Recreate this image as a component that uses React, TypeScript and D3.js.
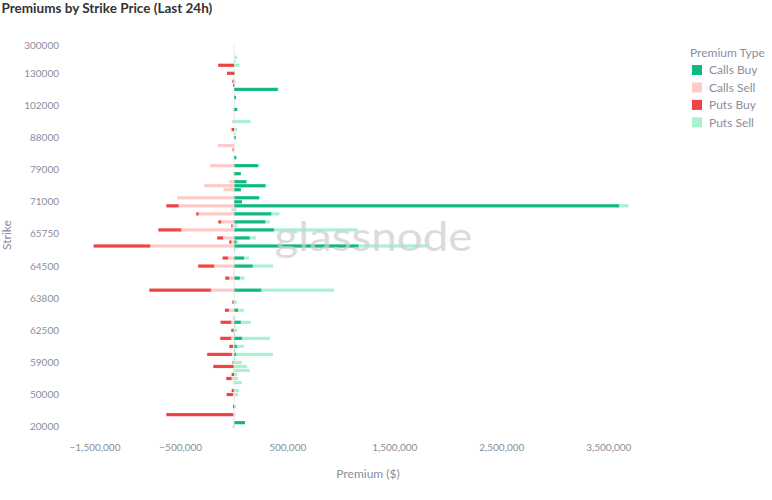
import * as d3 from "d3";

const width = 772;
const height = 500;

// strike rows, top to bottom
const strikes = [
  300000, 250000, 200000, 180000, 160000, 150000, 140000, 130000,
  125000, 120000, 115000, 110000, 108000, 106000, 104000, 102000,
  100000, 98000, 96000, 95000, 94000, 92000, 90000, 88000,
  86000, 85000, 84000, 83000, 82000, 81000, 80000, 79000,
  78000, 77000, 76000, 75000, 74000, 73000, 72000, 71000,
  70000, 69000, 68000, 67500, 67000, 66500, 66000, 65750,
  65500, 65250, 65000, 64800, 64750, 64700, 64600, 64500,
  64400, 64300, 64250, 64200, 64100, 64000, 63900, 63800,
  63750, 63600, 63500, 63400, 63250, 63000, 62750, 62500,
  62250, 62000, 61500, 61000, 60500, 60000, 59500, 59000,
  58000, 57000, 56000, 55000, 54000, 52000, 51000, 50000,
  48000, 46000, 45000, 42000, 40000, 30000, 25000, 20000,
];

// premiums in thousands of $, same order as strikes
const callsBuy = [
  0, 0, 0, 0, 0, 0, 0, 3,
  0, 0, 0, 408, 0, 16, 0, 0,
  28, 0, 0, 0, 0, 0, 0, 15,
  0, 0, 0, 0, 20, 0, 225, 0,
  62, 0, 115, 293, 62, 0, 234, 72,
  3598, 0, 349, 0, 293, 0, 371, 0,
  146, 22, 1162, 3, 0, 93, 0, 174,
  0, 0, 53, 0, 0, 255, 0, 0,
  0, 0, 37, 0, 0, 62, 3, 0,
  3, 72, 3, 25, 3, 19, 3, 0,
  0, 0, 0, 0, 0, 0, 0, 0,
  0, 0, 0, 0, 0, 0, 100, 0,
];

const callsSell = [
  0, 0, 0, 0, 0, 0, 0, 0,
  0, 8, 0, 0, 0, 0, 0, 0,
  15, 0, 5, 20, 0, 0, 5, 5,
  0, 153, 8, 0, 0, 0, 225, 0,
  10, 0, 45, 280, 100, 0, 533, 0,
  520, 28, 333, 0, 121, 16, 495, 0,
  103, 25, 785, 0, 0, 59, 8, 187,
  0, 8, 47, 3, 0, 218, 3, 0,
  6, 0, 50, 0, 15, 28, 0, 6,
  0, 28, 0, 12, 0, 22, 0, 10,
  6, 6, 0, 25, 9, 0, 5, 12,
  4, 0, 0, 0, 9, 5, 6, 15,
];

const putsBuy = [
  0, 0, 0, 0, 0, 150, 0, 68,
  0, 10, 10, 0, 0, 0, 0, 0,
  0, 0, 0, 0, 0, 25, 0, 0,
  0, 0, 8, 0, 0, 0, 0, 0,
  0, 0, 0, 0, 0, 0, 0, 0,
  115, 0, 22, 0, 28, 12, 215, 0,
  56, 22, 530, 0, 0, 50, 0, 150,
  0, 0, 37, 0, 0, 576, 0, 0,
  12, 0, 37, 0, 0, 100, 0, 22,
  0, 103, 0, 34, 0, 231, 0, 6,
  190, 0, 25, 50, 0, 0, 19, 59,
  0, 0, 12, 0, 626, 0, 0, 0,
];

const putsSell = [
  0, 0, 0, 28, 12, 50, 0, 0,
  0, 12, 0, 5, 0, 0, 3, 0,
  0, 0, 0, 153, 0, 25, 10, 0,
  0, 0, 0, 0, 0, 0, 10, 0,
  0, 0, 0, 15, 0, 0, 0, 0,
  88, 22, 72, 0, 40, 31, 780, 0,
  56, 19, 635, 0, 0, 44, 0, 190,
  3, 0, 44, 0, 0, 676, 0, 0,
  25, 0, 53, 0, 9, 93, 0, 25,
  0, 262, 0, 65, 0, 343, 0, 72,
  122, 146, 25, 34, 72, 0, 44, 34,
  0, 0, 16, 0, 12, 0, 0, 0,
];

const types = ["Calls Buy", "Calls Sell", "Puts Buy", "Puts Sell"];
const colors = ["#10b981", "#fecaca", "#ef4444", "#a7f3d0"];
const xTicks = [-1500000, -500000, 500000, 1500000, 2500000, 3500000];
const labelledStrikes = [
  300000, 130000, 102000, 88000, 79000, 71000, 65750, 64500, 63800, 62500,
  59000, 50000, 20000,
];

const font = "Lato, 'Open Sans', sans-serif";
const grey = "#8b8e9b";

export default function App() {
  const left = 70;
  const right = 666;
  const top = 43.2;
  const bottom = 428.7;

  const rows = strikes.map((s, i) => ({
    strike: String(s),
    "Calls Buy": callsBuy[i] * 1000,
    "Calls Sell": -callsSell[i] * 1000,
    "Puts Buy": -putsBuy[i] * 1000,
    "Puts Sell": putsSell[i] * 1000,
  }));

  const series = d3
    .stack<any>()
    .keys(types)
    .offset(d3.stackOffsetDiverging)(rows);

  const x = d3.scaleLinear().domain([-1535000, 4035000]).range([left, right]);
  const y = d3
    .scaleBand<string>()
    .domain(rows.map((r) => r.strike))
    .range([top, bottom])
    .paddingInner(0.2)
    .paddingOuter(0.1);
  const color = d3.scaleOrdinal<string, string>().domain(types).range(colors);
  const fmt = d3.format(",");

  return (
    <svg
      width={width}
      height={height}
      style={{ position: "absolute", left: 0, top: 0 }}
    >
      <text x={1.5} y={12.5} fontFamily={font} fontWeight={700} fontSize={13.5} fill="#333">
        Premiums by Strike Price (Last 24h)
      </text>

      <line x1={x(0)} x2={x(0)} y1={top} y2={bottom} stroke="#ececec" strokeWidth={1} />

      {series.map((s) => (
        <g key={s.key} fill={color(s.key)}>
          {s.map((d, i) => {
            const w = Math.abs(x(d[1]) - x(d[0]));
            if (w < 0.01) return null;
            return (
              <rect
                key={i}
                x={Math.min(x(d[0]), x(d[1]))}
                y={y(d.data.strike)}
                width={w}
                height={y.bandwidth()}
              />
            );
          })}
        </g>
      ))}

      <text
        x={373.5}
        y={251}
        textAnchor="middle"
        fontFamily="Lato, sans-serif"
        fontSize={40}
        fill="#cfcfcf"
        opacity={0.75}
        textLength={198}
        lengthAdjust="spacingAndGlyphs"
      >
        glassnode
      </text>

      {labelledStrikes.map((s) => (
        <text
          key={s}
          x={59}
          y={(y(String(s)) ?? 0) + y.bandwidth() / 2}
          dy="0.35em"
          textAnchor="end"
          fontFamily={font}
          fontSize={10}
          fill={grey}
        >
          {s}
        </text>
      ))}

      {xTicks.map((t) => {
        const label = fmt(t).replace("-", "\u2212");
        const half = label.length * 2.5;
        return (
          <text
            key={t}
            x={Math.max(x(t), left + half)}
            y={451}
            textAnchor="middle"
            fontFamily={font}
            fontSize={10}
            fill={grey}
          >
            {label}
          </text>
        );
      })}

      <text x={368} y={478} textAnchor="middle" fontFamily={font} fontSize={12} fill={grey}>
        Premium ($)
      </text>
      <text
        transform={`translate(11,235) rotate(-90)`}
        textAnchor="middle"
        fontFamily={font}
        fontSize={12}
        fill={grey}
      >
        Strike
      </text>

      <text x={690} y={57} fontFamily={font} fontSize={12} fill={grey}>
        Premium Type
      </text>
      {types.map((t, i) => (
        <g key={t} transform={`translate(692,${70 + i * 17.45})`}>
          <rect x={0} y={-5} width={10} height={10} fill={color(t)} />
          <text x={17} y={0} dy="0.35em" fontFamily={font} fontSize={12} fill={grey}>
            {t}
          </text>
        </g>
      ))}
    </svg>
  );
}
